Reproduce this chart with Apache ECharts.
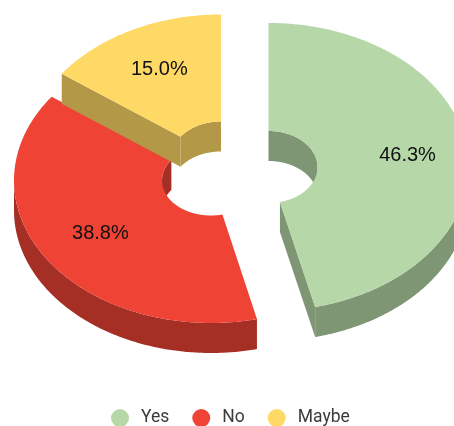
<!DOCTYPE html>
<html>
<head>
<meta charset="utf-8">
<style>html,body{margin:0;padding:0;background:#fff;overflow:hidden}#chart{width:454px;height:426px}</style>
<script src="https://cdn.jsdelivr.net/npm/echarts@6/dist/echarts.min.js"></script>
</head>
<body>
<div id="chart"></div>
<script>
// Survey answers, in percent
var categories = ['Yes', 'No', 'Maybe'];
var shares = [46.3, 38.8, 15.0];

// Face and wall colours per answer
var faceColors = ['#B6D7A8', '#EE4335', '#FFD966'];
var wallColors = ['#7F9675', '#A62F25', '#B39847'];

// Tilted-ring geometry of each exploded slice: centre, outer and inner semi-axes,
// and how far out along the slice its label sits
var ringShapes = [
  { cx: 268.5, cy: 167,   A: 200, B: 144,   a: 49, b: 36, lr: 0.70 },
  { cx: 211,   cy: 180.5, A: 197, B: 142.5, a: 49, b: 35, lr: 0.675 },
  { cx: 221,   cy: 158.5, A: 197, B: 144,   a: 50, b: 37, lr: 0.69 }
];
var depth = 30;

var total = shares.reduce(function (s, v) { return s + v; }, 0);

// Angles run clockwise from twelve o'clock
function sweep(index) {
  var before = shares.slice(0, index).reduce(function (s, v) { return s + v; }, 0);
  return [before / total * 2 * Math.PI, (before + shares[index]) / total * 2 * Math.PI];
}
function onRing(g, rx, ry, t, drop) {
  return [g.cx + rx * Math.sin(t), g.cy - ry * Math.cos(t) + (drop || 0)];
}
function arc(g, rx, ry, t0, t1, drop) {
  var steps = Math.max(2, Math.ceil(Math.abs(t1 - t0) / 0.01));
  var pts = [];
  for (var i = 0; i <= steps; i++) pts.push(onRing(g, rx, ry, t0 + (t1 - t0) * i / steps, drop));
  return pts;
}
function band(g, rx, ry, t0, t1) {
  return arc(g, rx, ry, t0, t1, 0).concat(arc(g, rx, ry, t1, t0, depth));
}
function poly(points, fill) {
  return { type: 'polygon', shape: { points: points }, style: { fill: fill } };
}

function renderSlice(params, api) {
  var i = params.seriesIndex;
  var g = ringShapes[i];
  var s = sweep(i);
  var t0 = s[0], t1 = s[1];
  var wall = wallColors[i];
  var kids = [];
  var PI = Math.PI;

  // Inner wall shows across the far half of the hole
  [[0, PI / 2], [3 * PI / 2, 2 * PI]].forEach(function (r) {
    var lo = Math.max(t0, r[0]), hi = Math.min(t1, r[1]);
    if (hi > lo) kids.push(poly(band(g, g.a, g.b, lo, hi), wall));
  });
  // Outer wall shows across the near half
  var lo = Math.max(t0, PI / 2), hi = Math.min(t1, 3 * PI / 2);
  if (hi > lo) kids.push(poly(band(g, g.A, g.B, lo, hi), wall));

  // Radial cut faces turned toward the viewer
  function cut(t) {
    var p = onRing(g, g.a, g.b, t), q = onRing(g, g.A, g.B, t);
    kids.push(poly([p, q, [q[0], q[1] + depth], [p[0], p[1] + depth]], wall));
  }
  if (Math.sin(t0) < -1e-6) cut(t0);
  if (Math.sin(t1) > 1e-6) cut(t1);

  // Top face
  kids.push(poly(arc(g, g.A, g.B, t0, t1, 0).concat(arc(g, g.a, g.b, t1, t0, 0)), faceColors[i]));

  // Percentage label
  var mid = (t0 + t1) / 2;
  var at = onRing(g, g.A * g.lr, g.B * g.lr, mid);
  kids.push({
    type: 'text',
    style: {
      text: api.value(0).toFixed(1) + '%',
      x: at[0], y: at[1],
      align: 'center', verticalAlign: 'middle',
      font: '20px "Liberation Sans", Arial, sans-serif',
      fill: '#111'
    }
  });
  return { type: 'group', children: kids };
}

var chart = echarts.init(document.getElementById('chart'), null, { renderer: 'canvas' });
chart.setOption({
  animation: false,
  backgroundColor: '#fff',
  legend: {
    data: categories,
    left: 111,
    top: 409,
    itemWidth: 32,
    itemHeight: 18,
    itemGap: 23,
    icon: 'circle',
    padding: 0,
    textStyle: { fontFamily: 'Roboto, sans-serif', fontSize: 17.5, color: '#3a3a3a' }
  },
  series: categories.map(function (name, i) {
    return {
      type: 'custom',
      name: name,
      coordinateSystem: 'none',
      silent: true,
      itemStyle: { color: faceColors[i] },
      renderItem: renderSlice,
      data: [[shares[i]]]
    };
  })
});
</script>
</body>
</html>
